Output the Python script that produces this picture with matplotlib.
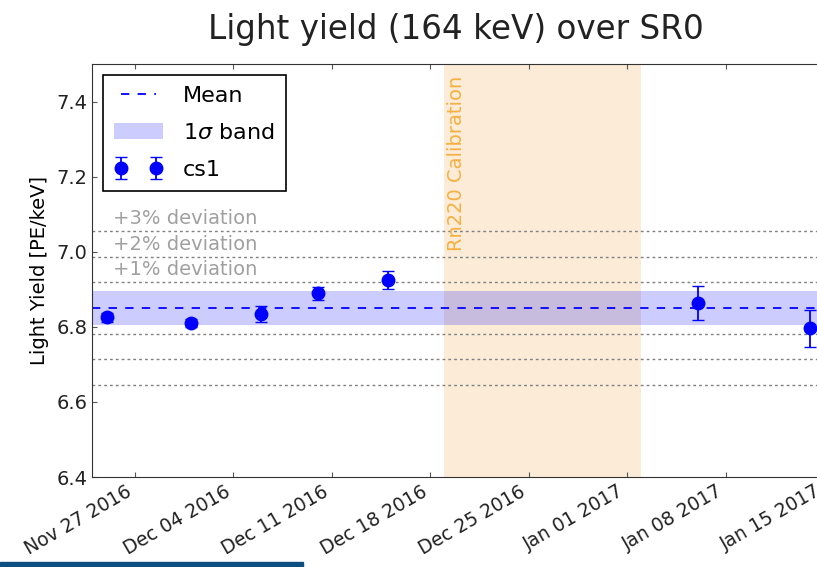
import datetime as dt
import matplotlib
matplotlib.use("Agg")
import matplotlib.pyplot as plt
import matplotlib.dates as mdates
import matplotlib.transforms as mtransforms
from matplotlib.patches import Rectangle

# values
dates = ["2016-11-25", "2016-12-01", "2016-12-06", "2016-12-10",
         "2016-12-15", "2017-01-06", "2017-01-14"]
light_yield = [6.826, 6.810, 6.834, 6.889, 6.924, 6.863, 6.796]
ly_err = [0.012, 0.010, 0.022, 0.018, 0.024, 0.045, 0.050]
mean_ly = 6.85
sigma_ly = 0.046
deviations = [1, 2, 3]
rn_start, rn_end = "2016-12-19", "2017-01-02"
tick_dates = ["2016-11-27", "2016-12-04", "2016-12-11", "2016-12-18",
              "2016-12-25", "2017-01-01", "2017-01-08", "2017-01-15"]

to_dt = lambda s: dt.datetime.strptime(s, "%Y-%m-%d")
x = [to_dt(d) for d in dates]

fig = plt.figure(figsize=(8.17, 5.67), dpi=100)
ax = fig.add_axes([0.1126, 0.1587, 0.931, 0.7284])

ax.axvspan(to_dt(rn_start), to_dt(rn_end), color="#fbebd7", lw=0)
ax.text(to_dt(rn_start) + dt.timedelta(hours=20), 7.47, "Rn220 Calibration",
        rotation=90, color="#f5b041", fontsize=14, va="top", ha="center")

for d in deviations:
    ax.axhline(mean_ly * (1 + d / 100), color="gray", lw=1, dashes=(2, 2.2))
    ax.axhline(mean_ly * (1 - d / 100), color="gray", lw=1, dashes=(2, 2.2))
    ax.text(dt.datetime(2016, 11, 25, 11), mean_ly * (1 + d / 100) + 0.008,
            "+%d%% deviation" % d, color="#a0a0a0", fontsize=14, va="bottom")

ax.axhline(mean_ly, color="b", lw=1.3, dashes=(4.6, 4.6), label="Mean")
ax.axhspan(mean_ly - sigma_ly, mean_ly + sigma_ly, color="b", alpha=0.2,
           lw=0, label=r"1$\sigma$ band")
ax.errorbar(x, light_yield, yerr=ly_err, fmt="o", color="b", ms=9,
            capsize=4, elinewidth=1.3, label="cs1")

ax.set_xlim(dt.datetime(2016, 11, 23, 23), dt.datetime(2017, 1, 17))
ax.set_ylim(6.4, 7.5)
ax.set_yticks([6.4, 6.6, 6.8, 7.0, 7.2, 7.4])
ax.set_xticks([to_dt(t) for t in tick_dates])
ax.xaxis.set_major_formatter(mdates.DateFormatter("%b %d %Y"))
shift = mtransforms.ScaledTranslation(-11 / 100, 0, fig.dpi_scale_trans)
for lab in ax.get_xticklabels():
    lab.set_rotation(30)
    lab.set_ha("right")
    lab.set_transform(lab.get_transform() + shift)
ax.tick_params(direction="in", top=True, right=True, labelsize=13.5,
               color="#555555", labelcolor="#222222")
ax.tick_params(axis="y", labelsize=14)
for s in ax.spines.values():
    s.set_color("#333333")
ax.set_ylabel("Light Yield [PE/keV]", fontsize=14, labelpad=5)

leg = ax.legend(loc="upper left", fontsize=16, numpoints=2, fancybox=False,
                edgecolor="black", framealpha=1, borderaxespad=0.5,
                handlelength=2.2, handletextpad=0.9, labelspacing=0.75,
                borderpad=0.5)
leg.get_frame().set_linewidth(1.2)

fig.text(456 / 817, 1 - 30 / 567, "Light yield (164 keV) over SR0",
         fontsize=23.5, ha="center", va="center", color="#222222")

fig.patches.append(Rectangle((0, 0), 303 / 817, 5 / 567, transform=fig.transFigure,
                             color="#0b4f80", zorder=5))

fig.savefig("out.png", dpi=100)
